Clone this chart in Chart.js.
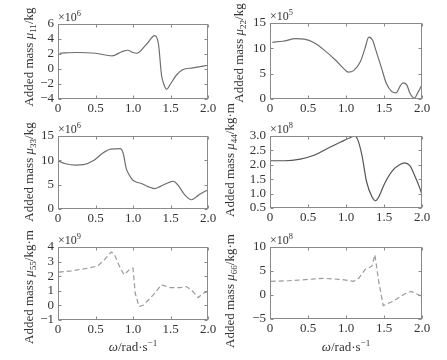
<!DOCTYPE html>
<html>
<head>
<meta charset="utf-8">
<script src="https://cdn.jsdelivr.net/npm/chart.js@4.4.1/dist/chart.umd.min.js"></script>
<style>
  body { margin: 0; background: #fff; }
  #wrap { position: relative; width: 447px; height: 360px; }
  #wrap canvas { position: absolute; left: 0; top: 0; }
</style>
</head>
<body>
<div id="wrap">
  <canvas id="c11" width="447" height="360"></canvas>
  <canvas id="c22" width="447" height="360"></canvas>
  <canvas id="c33" width="447" height="360"></canvas>
  <canvas id="c44" width="447" height="360"></canvas>
  <canvas id="c55" width="447" height="360"></canvas>
  <canvas id="c66" width="447" height="360"></canvas>
</div>
<script>
// frequency axis
var xTicks = [0, 0.5, 1.0, 1.5, 2.0]
var xTickLabels = ['0', '0.5', '1.0', '1.5', '2.0']

// mu11, x10^6 kg
var w11 = [0.02, 0.25, 0.5, 0.72, 0.85, 0.93, 1.0, 1.05, 1.18, 1.29, 1.34, 1.38, 1.41, 1.45, 1.5, 1.58, 1.66, 1.8, 2.0]
var mu11 = [2.1, 2.2, 2.1, 1.75, 2.3, 2.5, 2.2, 2.1, 3.3, 4.45, 3.3, -0.8, -2.0, -2.7, -2.0, -0.8, -0.1, 0.15, 0.5]
var yTicks11 = [-4, -2, 0, 2, 4, 6]

// mu22, x10^5 kg
var w22 = [0.03, 0.17, 0.34, 0.45, 0.58, 0.71, 0.86, 0.97, 1.03, 1.1, 1.19, 1.25, 1.3, 1.35, 1.4, 1.47, 1.53, 1.6, 1.66, 1.71, 1.75, 1.8, 1.84, 1.9, 1.95, 2.0]
var mu22 = [11.2, 11.4, 11.9, 11.8, 11.1, 9.7, 7.7, 6.0, 5.3, 5.6, 7.4, 10.0, 12.2, 11.6, 9.3, 6.0, 3.1, 1.5, 1.2, 2.5, 3.2, 2.8, 1.2, 0.2, 1.4, 2.8]
var yTicks22 = [0, 5, 10, 15]

// mu33, x10^6 kg
var w33 = [0.01, 0.1, 0.23, 0.34, 0.48, 0.59, 0.7, 0.83, 0.87, 0.91, 0.95, 1.0, 1.12, 1.2, 1.29, 1.36, 1.47, 1.54, 1.6, 1.69, 1.78, 1.87, 1.93, 2.0]
var mu33 = [9.8, 9.3, 9.0, 9.1, 10.0, 11.4, 12.3, 12.4, 11.4, 8.3, 7.0, 5.9, 5.2, 4.6, 4.2, 4.6, 5.4, 5.7, 4.9, 2.9, 1.9, 2.8, 3.4, 3.9]
var yTicks33 = [0, 5, 10, 15]

// mu44, x10^8 kg.m
var w44 = [0.01, 0.19, 0.4, 0.58, 0.75, 0.93, 1.06, 1.11, 1.15, 1.21, 1.27, 1.34, 1.39, 1.43, 1.51, 1.62, 1.71, 1.77, 1.84, 1.9, 1.97, 2.0]
var mu44 = [2.14, 2.14, 2.2, 2.33, 2.56, 2.79, 2.95, 3.0, 2.9, 2.33, 1.42, 0.9, 0.75, 0.88, 1.36, 1.82, 2.01, 2.07, 1.97, 1.65, 1.2, 0.96]
var yTicks44 = [0.5, 1.0, 1.5, 2.0, 2.5, 3.0]

// mu55, x10^9 kg.m
var w55 = [0.01, 0.18, 0.4, 0.53, 0.62, 0.71, 0.75, 0.81, 0.88, 0.95, 1.0, 1.03, 1.08, 1.14, 1.27, 1.38, 1.49, 1.63, 1.71, 1.78, 1.87, 1.93, 2.0]
var mu55 = [2.28, 2.37, 2.55, 2.7, 3.13, 3.66, 3.52, 2.78, 2.1, 2.44, 2.55, 0.83, -0.08, 0.03, 0.72, 1.41, 1.22, 1.22, 1.29, 1.06, 0.53, 0.83, 0.95]
var yTicks55 = [-1, 0, 1, 2, 3, 4]

// mu66, x10^8 kg.m
var w66 = [0.01, 0.27, 0.71, 0.93, 1.1, 1.17, 1.25, 1.34, 1.38, 1.43, 1.49, 1.62, 1.77, 1.86, 1.93, 2.0]
var mu66 = [2.85, 3.0, 3.47, 3.26, 2.85, 3.54, 5.28, 6.0, 8.4, 2.85, -2.2, -1.3, 0.2, 0.76, 0.2, -0.3]
var yTicks66 = [-5, 0, 5, 10]

var FONT = '"Liberation Serif", "Times New Roman", serif'
var TEXT = '#333'
var FRAME = '#8a8a8a'

function partsWidth(c, parts, size) {
    var w = 0
    parts.forEach(function (p) {
        var s = (p.sub || p.sup) ? size * 0.7 : size
        c.font = (p.it ? 'italic ' : '') + s + 'px ' + FONT
        w += c.measureText(p.t).width
    })
    return w
}

function drawParts(c, parts, x, y, size) {
    parts.forEach(function (p) {
        var s = (p.sub || p.sup) ? size * 0.7 : size
        c.font = (p.it ? 'italic ' : '') + s + 'px ' + FONT
        var dy = p.sub ? size * 0.25 : (p.sup ? -size * 0.4 : 0)
        c.fillText(p.t, x, y + dy)
        x += c.measureText(p.t).width
    })
}

// box, inward ticks, labels with sub/superscripts
var framePlugin = {
    id: 'frame',
    afterDraw: function (chart, args, o) {
        var c = chart.ctx, a = chart.chartArea
        var sx = chart.scales.x, sy = chart.scales.y
        var l = Math.round(a.left) + 0.5, r = Math.round(a.right) - 0.5
        var t = Math.round(a.top) + 0.5, b = Math.round(a.bottom) - 0.5
        c.save()
        c.strokeStyle = FRAME
        c.lineWidth = 1
        c.strokeRect(l, t, r - l, b - t)
        c.beginPath()
        sx.ticks.forEach(function (tk) {
            var px = Math.round(sx.getPixelForValue(tk.value)) + 0.5
            c.moveTo(px, b); c.lineTo(px, b - 3)
            c.moveTo(px, t); c.lineTo(px, t + 3)
        })
        sy.ticks.forEach(function (tk) {
            var py = Math.round(sy.getPixelForValue(tk.value)) + 0.5
            c.moveTo(l, py); c.lineTo(l + 3, py)
            c.moveTo(r, py); c.lineTo(r - 3, py)
        })
        c.stroke()

        c.fillStyle = TEXT
        c.textBaseline = 'alphabetic'
        c.textAlign = 'left'
        // exponent above the box
        drawParts(c, [{ t: '×10' }, { t: o.exp, sup: true }], a.left, a.top - 3, 12)

        // y title, rotated
        var title = [{ t: 'Added mass ' }, { t: 'μ', it: true }, { t: o.sub, sub: true }, { t: o.unit }]
        c.save()
        c.translate(o.tx, o.ty)
        c.rotate(-Math.PI / 2)
        var w = partsWidth(c, title, 13)
        drawParts(c, title, -w / 2, 13 * 0.35, 13)
        c.restore()

        if (o.xTitle) {
            var xt = [{ t: 'ω', it: true }, { t: '/rad·s' }, { t: '−1', sup: true }]
            var xw = partsWidth(c, xt, 13)
            drawParts(c, xt, (a.left + a.right) / 2 - xw / 2, 351, 13)
        }
        c.restore()
    }
}

function panel(id, xs, ys, yTicks, box, o) {
    var pts = xs.map(function (x, i) { return { x: x, y: ys[i] } })
    var dashed = !!o.dash
    new Chart(document.getElementById(id), {
        type: 'line',
        data: {
            datasets: [{
                data: pts,
                borderColor: dashed ? '#9a9a9a' : o.color || '#6e6e6e',
                borderWidth: 1.2,
                borderDash: dashed ? [5, 3] : [],
                pointRadius: 0,
                fill: false,
                cubicInterpolationMode: dashed ? 'default' : 'monotone',
                tension: 0
            }]
        },
        options: {
            responsive: false,
            animation: false,
            layout: { padding: { left: box.l - 30, right: 447 - box.r, top: box.t, bottom: 360 - box.b - 20 } },
            plugins: {
                legend: { display: false },
                tooltip: { enabled: false },
                frame: o
            },
            scales: {
                x: {
                    type: 'linear', min: 0, max: 2,
                    afterBuildTicks: function (s) { s.ticks = xTicks.map(function (v) { return { value: v } }) },
                    afterFit: function (s) { s.height = 20 },
                    grid: { display: false, drawTicks: false },
                    border: { display: false },
                    ticks: {
                        padding: 2, maxRotation: 0, autoSkip: false, color: TEXT,
                        font: { family: FONT, size: 13 },
                        callback: function (v, i) { return xTickLabels[i] }
                    }
                },
                y: {
                    type: 'linear', min: yTicks[0], max: yTicks[yTicks.length - 1],
                    afterBuildTicks: function (s) { s.ticks = yTicks.map(function (v) { return { value: v } }) },
                    afterFit: function (s) { s.width = 30 },
                    grid: { display: false, drawTicks: false },
                    border: { display: false },
                    ticks: {
                        padding: 4, autoSkip: false, color: TEXT,
                        font: { family: FONT, size: 13 },
                        callback: function (v) {
                            var s = o.dec ? v.toFixed(1) : String(v)
                            return s.replace('-', '−')
                        }
                    }
                }
            }
        },
        plugins: [framePlugin]
    })
}

panel('c11', w11, mu11, yTicks11, { l: 58, r: 208, t: 24, b: 99 }, { exp: '6', sub: '11', unit: '/kg', tx: 28, ty: 57 })
panel('c22', w22, mu22, yTicks22, { l: 270, r: 422, t: 23, b: 99 }, { exp: '5', sub: '22', unit: '/kg', tx: 238, ty: 53 })
panel('c33', w33, mu33, yTicks33, { l: 58, r: 208, t: 136, b: 209 }, { exp: '6', sub: '33', unit: '/kg', tx: 28, ty: 172 })
panel('c44', w44, mu44, yTicks44, { l: 270, r: 422, t: 136, b: 208 }, { exp: '8', sub: '44', unit: '/kg·m', tx: 229, ty: 160, dec: true, color: '#555' })
panel('c55', w55, mu55, yTicks55, { l: 58, r: 208, t: 247, b: 320 }, { exp: '9', sub: '55', unit: '/kg·m', tx: 28, ty: 287, dash: true, xTitle: true })
panel('c66', w66, mu66, yTicks66, { l: 270, r: 422, t: 247, b: 319 }, { exp: '8', sub: '66', unit: '/kg·m', tx: 229, ty: 291, dash: true, xTitle: true })
</script>
</body>
</html>
